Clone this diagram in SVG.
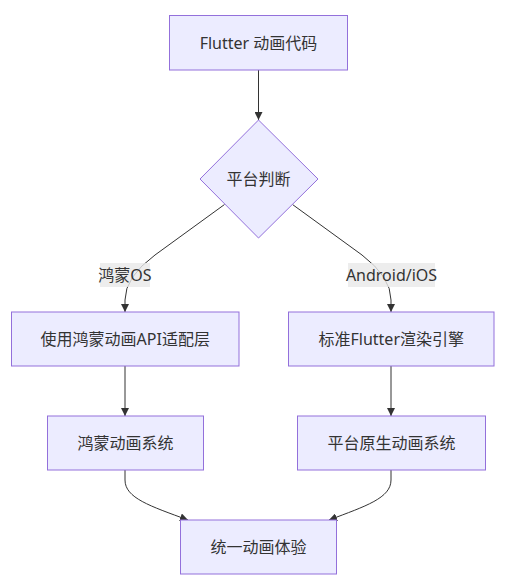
<svg xmlns="http://www.w3.org/2000/svg" width="508" height="588" viewBox="0 0 508 588">
<style>
.node rect,.node polygon{fill:#ECECFF;stroke:#9370DB;stroke-width:1}
text{font-family:"Noto Sans","Noto Sans CJK SC",sans-serif;font-size:16px;fill:#333;text-anchor:middle;dominant-baseline:central}
.edge{fill:none;stroke:#333;stroke-width:1}
.lbl{fill:#E8E8E8;opacity:0.8}
</style>
<defs>
<marker id="arr" viewBox="0 0 10 10" refX="10" refY="5" markerWidth="8" markerHeight="8" markerUnits="userSpaceOnUse" orient="auto">
<path d="M0,0 L10,5 L0,10 z" fill="#333"/>
</marker>
</defs>
<rect width="508" height="588" fill="#fff"/>
<g id="connectors">
<path class="edge" d="M258.5,70 L258.5,120" marker-end="url(#arr)"/>
<path class="edge" d="M224.5,204.5 L155,255 Q125,277 125,300 L125,312" marker-end="url(#arr)"/>
<path class="edge" d="M292.5,204.5 L362,255 Q391,277 391,300 L391,312" marker-end="url(#arr)"/>
<path class="edge" d="M125,366 L125,416" marker-end="url(#arr)"/>
<path class="edge" d="M391,366 L391,416" marker-end="url(#arr)"/>
<path class="edge" d="M125,470 L125,480 C125,498 150,506 188,520" marker-end="url(#arr)"/>
<path class="edge" d="M391,470 L391,480 C391,498 366,506 329,520" marker-end="url(#arr)"/>
<g id="label-hm">
<rect class="lbl" x="100" y="263" width="50" height="24"/>
<text x="125" y="275">鸿蒙OS</text>
</g>
<g id="label-ai">
<rect class="lbl" x="348" y="263" width="87" height="24"/>
<text x="391.5" y="275">Android/iOS</text>
</g>
</g>
<g id="n-flutter" class="node">
<rect x="169.5" y="15.5" width="178" height="54.5"/>
<text x="258.5" y="42.5">Flutter 动画代码</text>
</g>
<g id="n-decide" class="node">
<polygon points="258.5,120 318,179 258.5,238 200,179"/>
<text x="258.5" y="179">平台判断</text>
</g>
<g id="n-hmapi" class="node">
<rect x="11.5" y="312" width="227.5" height="54"/>
<text x="125.25" y="339">使用鸿蒙动画API适配层</text>
</g>
<g id="n-std" class="node">
<rect x="288.5" y="312" width="205.5" height="54"/>
<text x="391.25" y="339">标准Flutter渲染引擎</text>
</g>
<g id="n-hmsys" class="node">
<rect x="47.5" y="416" width="156" height="54"/>
<text x="125.5" y="443">鸿蒙动画系统</text>
</g>
<g id="n-native" class="node">
<rect x="297.5" y="416" width="188" height="54"/>
<text x="391.5" y="443">平台原生动画系统</text>
</g>
<g id="n-unified" class="node">
<rect x="180.5" y="520" width="156" height="54"/>
<text x="258.5" y="547">统一动画体验</text>
</g>
</svg>
